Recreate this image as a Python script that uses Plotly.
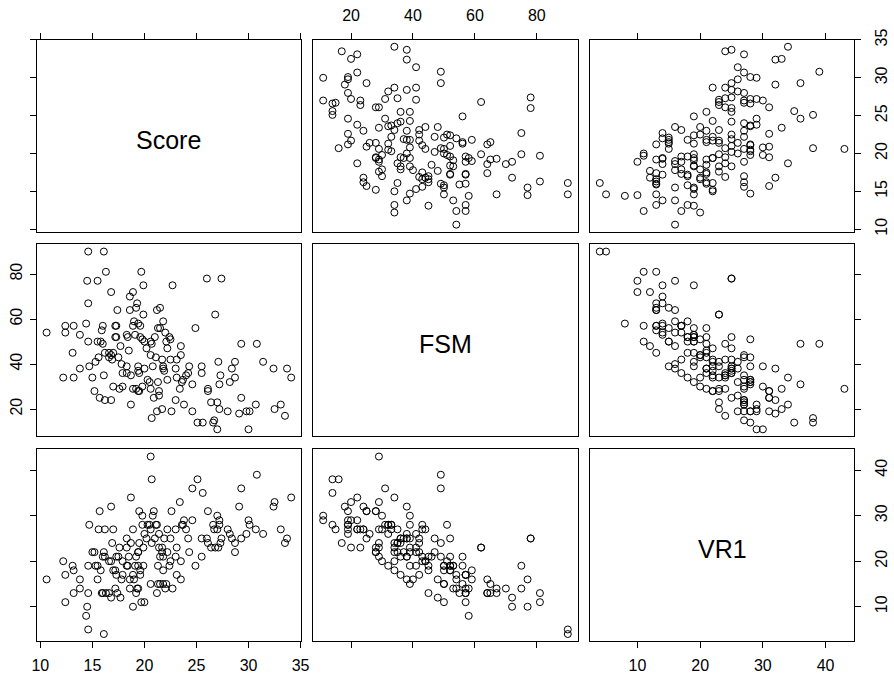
import plotly.graph_objects as go

# Scatterplot-matrix data: one entry per school
score = [10.6, 12.2, 12.4, 12.4, 13.1, 13.2, 13.2, 13.8, 13.8, 14.4,
         14.5, 14.6, 14.6, 14.6, 14.7, 15.0, 15.2, 15.3, 15.5, 15.5,
         15.6, 15.7, 15.8, 15.9, 16.0, 16.0, 16.1, 16.1, 16.2, 16.2,
         16.3, 16.6, 16.6, 16.8, 16.8, 16.8, 16.9, 17.0, 17.0, 17.2,
         17.2, 17.3, 17.3, 17.4, 17.5, 17.6, 17.7, 17.8, 17.9, 17.9,
         18.3, 18.3, 18.3, 18.4, 18.5, 18.6, 18.6, 18.7, 18.7, 18.9,
         18.9, 18.9, 19.0, 19.1, 19.2, 19.2, 19.3, 19.4, 19.4, 19.4,
         19.4, 19.5, 19.5, 19.6, 19.6, 19.7, 19.8, 19.8, 19.9, 19.9,
         20.0, 20.0, 20.2, 20.3, 20.5, 20.6, 20.6, 20.6, 20.7, 20.7,
         20.8, 20.9, 21.0, 21.1, 21.2, 21.2, 21.3, 21.3, 21.4, 21.4,
         21.5, 21.5, 21.7, 21.7, 21.8, 21.8, 21.8, 21.9, 22.0, 22.1,
         22.2, 22.2, 22.4, 22.5, 22.5, 22.6, 22.7, 23.0, 23.0, 23.1,
         23.1, 23.4, 23.5, 23.5, 23.6, 23.7, 23.8, 24.0, 24.2, 24.3,
         24.6, 24.6, 24.9, 25.1, 25.5, 25.5, 25.6, 26.0, 26.1, 26.1,
         26.4, 26.6, 26.7, 26.8, 27.0, 27.0, 27.1, 27.2, 27.2, 27.3,
         27.4, 28.0, 28.2, 28.4, 28.7, 28.7, 29.1, 29.3, 29.3, 29.8,
         30.0, 30.1, 30.7, 30.8, 31.4, 32.4, 32.5, 33.1, 33.5, 33.7,
         34.1]

fsm = [54, 34, 57, 54, 45, 57, 34, 53, 38, 58,
       77, 67, 50, 90, 39, 34, 28, 41, 77, 50,
       43, 25, 50, 55, 49, 57, 35, 90, 24, 45,
       81, 45, 43, 24, 44, 72, 42, 45, 30, 57,
       52, 57, 52, 64, 43, 29, 48, 40, 30, 36,
       36, 39, 53, 52, 46, 70, 64, 35, 22, 72,
       29, 57, 59, 53, 65, 29, 67, 58, 28, 39,
       37, 36, 28, 57, 52, 81, 51, 30, 75, 62,
       50, 38, 47, 33, 32, 29, 50, 44, 49, 16,
       39, 25, 52, 43, 64, 19, 32, 56, 28, 26,
       56, 65, 42, 20, 59, 39, 38, 37, 54, 50,
       47, 33, 52, 51, 42, 19, 75, 38, 24, 42,
       34, 29, 48, 44, 32, 33, 22, 35, 36, 39,
       19, 31, 56, 14, 39, 36, 14, 78, 29, 28,
       23, 14, 15, 62, 23, 11, 41, 20, 31, 35,
       78, 19, 32, 38, 41, 34, 18, 49, 25, 19,
       11, 19, 22, 49, 41, 38, 20, 22, 17, 38,
       34]

vr1 = [16, 20, 11, 17, 19, 13, 18, 14, 16, 8,
       10, 13, 19, 5, 28, 22, 22, 19, 16, 19,
       27, 31, 18, 13, 21, 13, 22, 4, 27, 21,
       13, 13, 20, 32, 20, 12, 24, 18, 27, 14,
       18, 17, 21, 13, 21, 23, 12, 16, 20, 17,
       25, 23, 19, 19, 21, 14, 16, 24, 34, 10,
       27, 17, 16, 19, 13, 21, 14, 14, 22, 19,
       22, 24, 31, 17, 18, 11, 28, 30, 19, 23,
       11, 26, 25, 28, 28, 43, 15, 27, 24, 38,
       30, 31, 25, 28, 13, 28, 19, 15, 23, 26,
       21, 15, 22, 23, 18, 15, 21, 25, 14, 15,
       22, 27, 19, 20, 25, 31, 14, 21, 27, 17,
       23, 33, 16, 20, 28, 28, 29, 27, 25, 22,
       29, 36, 19, 38, 25, 21, 35, 25, 24, 31,
       23, 28, 27, 23, 27, 30, 23, 29, 28, 24,
       25, 27, 26, 25, 22, 24, 32, 36, 25, 26,
       29, 28, 27, 39, 26, 32, 33, 27, 24, 25,
       34]

var_names = ["Score", "FSM", "VR1"]
var_ticks = {
    "Score": [10, 15, 20, 25, 30, 35],
    "FSM": [20, 40, 60, 80],
    "VR1": [10, 20, 30, 40],
}
columns = {"Score": score, "FSM": fsm, "VR1": vr1}

W, H = 894, 682
col_px = [(32.3, 300.7), (313.3, 581.7), (594.3, 862.7)]
row_px = [(29.3, 225.7), (238.7, 435.0), (448.3, 644.3)]

FONT = "Liberation Sans, Arial, Helvetica, sans-serif"
TICK_FONT = dict(family=FONT, size=16, color="black")


def axis_range(vals):
    lo, hi = min(vals), max(vals)
    pad = 0.04 * (hi - lo)
    return [lo - pad, hi + pad]


fig = go.Figure()
layout = {}
annotations = []

for i, yname in enumerate(var_names):
    for j, xname in enumerate(var_names):
        k = i * 3 + j + 1
        xs = "" if k == 1 else str(k)
        xkey, ykey = "xaxis" + xs, "yaxis" + xs
        xref, yref = "x" + xs, "y" + xs

        x0, x1 = col_px[j]
        y0, y1 = row_px[i]

        # x axis: ticks on the outer top/bottom edges only
        xa = dict(
            domain=[x0 / W, x1 / W], anchor=yref,
            range=axis_range(columns[xname]),
            showgrid=False, zeroline=False,
            showline=True, mirror=True, linecolor="black", linewidth=1,
            tickvals=var_ticks[xname], tickfont=TICK_FONT,
        )
        if i == 0:
            xa.update(side="top", ticks="outside", ticklen=6, tickwidth=1,
                      tickcolor="black", showticklabels=(j == 1),
                      ticklabelstandoff=5)
        elif i == 2:
            xa.update(side="bottom", ticks="outside", ticklen=6, tickwidth=1,
                      tickcolor="black", showticklabels=(j != 1),
                      ticklabelstandoff=4)
        else:
            xa.update(ticks="", showticklabels=False)

        # y axis: ticks on the outer left/right edges only
        ya = dict(
            domain=[1 - y1 / H, 1 - y0 / H], anchor=xref,
            range=axis_range(columns[yname]),
            showgrid=False, zeroline=False,
            showline=True, mirror=True, linecolor="black", linewidth=1,
            tickvals=var_ticks[yname], tickangle=-90, tickfont=TICK_FONT,
        )
        if j == 0:
            ya.update(side="left", ticks="outside", ticklen=6, tickwidth=1,
                      tickcolor="black", showticklabels=(i == 1),
                      ticklabelstandoff=1)
        elif j == 2:
            ya.update(side="right", ticks="outside", ticklen=6, tickwidth=1,
                      tickcolor="black", showticklabels=(i != 1),
                      ticklabelstandoff=7)
        else:
            ya.update(ticks="", showticklabels=False)

        layout[xkey] = xa
        layout[ykey] = ya

        if i == j:
            # empty trace so the diagonal panel still gets its frame and ticks
            fig.add_trace(go.Scatter(x=[], y=[], mode="markers",
                                     xaxis=xref, yaxis=yref,
                                     showlegend=False, hoverinfo="skip"))
            annotations.append(dict(
                text=xname, xref=xref + " domain", yref=yref + " domain",
                x=0.5, y=0.48, showarrow=False,
                font=dict(family=FONT, size=25, color="black"),
            ))
        else:
            fig.add_trace(go.Scatter(
                x=columns[xname], y=columns[yname], mode="markers",
                xaxis=xref, yaxis=yref, hoverinfo="skip",
                marker=dict(symbol="circle-open", size=7, color="black",
                            line=dict(width=1, color="black")),
                showlegend=False,
            ))

fig.update_layout(
    width=W, height=H,
    margin=dict(l=0, r=0, t=0, b=0),
    paper_bgcolor="white", plot_bgcolor="white",
    annotations=annotations,
    **layout,
)

fig.write_html("out.html")
